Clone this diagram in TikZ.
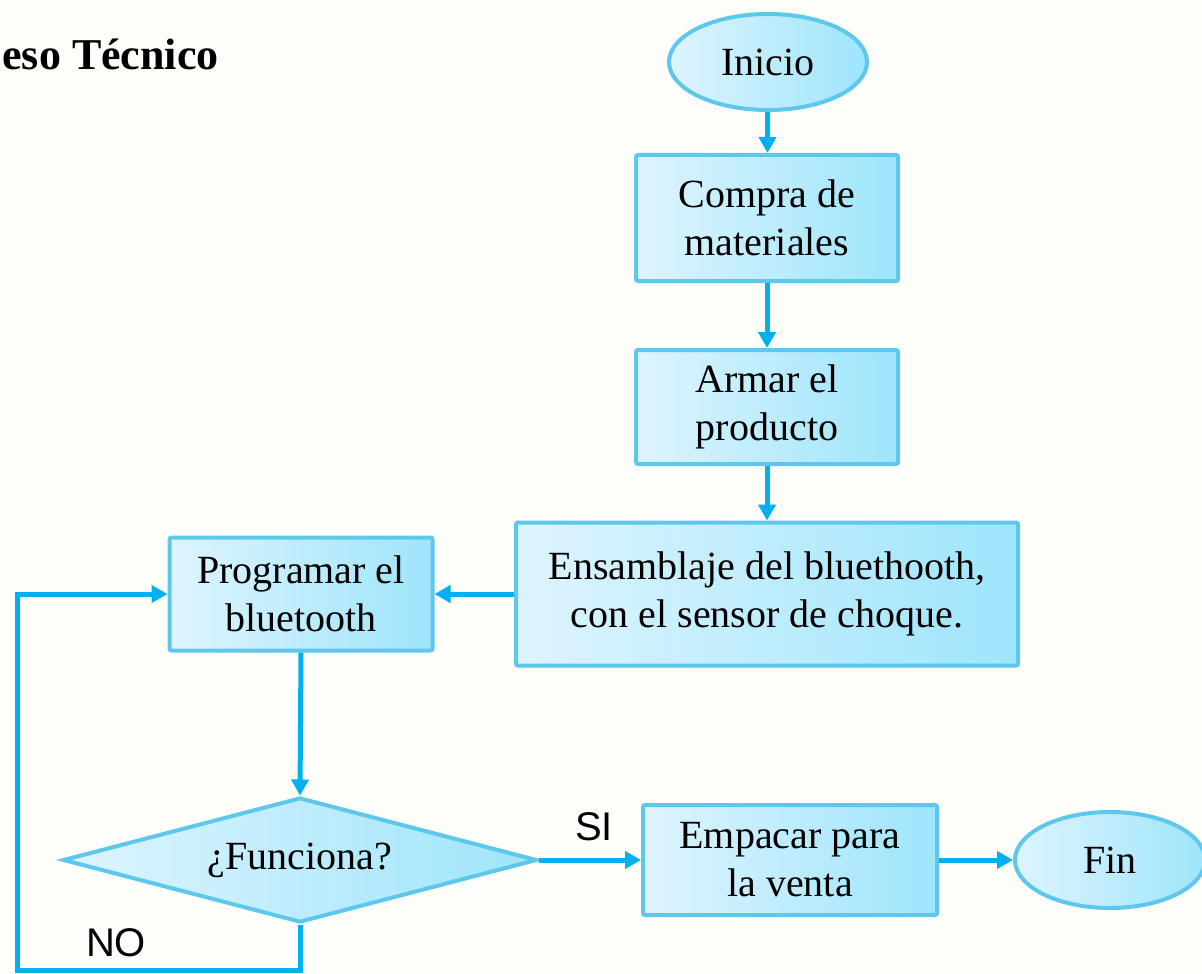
\documentclass[tikz,border=0pt]{standalone}
\usepackage{fontspec}
\setmainfont{Liberation Serif}
\newfontfamily\labelfont{Liberation Sans}
\usetikzlibrary{shapes,positioning,arrows.meta}

\definecolor{edgeblue}{RGB}{94,200,236}
\definecolor{arrowblue}{RGB}{0,176,240}
\definecolor{filllight}{RGB}{222,244,254}
\definecolor{filldark}{RGB}{158,229,251}
\definecolor{paper}{RGB}{253,253,250}

\begin{document}
\begin{tikzpicture}[
		x=0.5pt, y=-0.5pt,
		box/.style={
			draw=edgeblue,
			line width=2pt,
			left color=filllight,
			right color=filldark,
			inner sep=0pt,
			align=center,
			font=\fontsize{20}{24}\selectfont
		},
		terminal/.style={box, ellipse},
		process/.style={box, rectangle, rounded corners=1pt},
		decision/.style={box, diamond, aspect=3.8},
		flow/.style={
			draw=arrowblue,
			line width=2.5pt,
			-{Triangle[length=8pt,width=8.5pt]}
		},
		answer/.style={font=\labelfont\fontsize{20}{24}\selectfont}
		]
		\fill[paper] (0,0) rectangle (1202,973);
		\useasboundingbox (0,0) rectangle (1202,973);
		
		\node[anchor=base west, inner sep=0pt, font=\bfseries\fontsize{22}{26}\selectfont] (title) at (2,70) {eso Técnico};
		
		% sizes in pt (half of the pixel sizes)
		\node[terminal, minimum width=99pt, minimum height=48pt] (ini) at (768,62) {Inicio};
		\node[process, minimum width=131pt, minimum height=63pt] (buy) at (767,218) {Compra de\\materiales};
		\node[process, minimum width=131pt, minimum height=57pt] (build) at (767,407) {Armar el\\producto};
		\node[process, minimum width=251pt, minimum height=71.5pt] (join) at (767,594) {Ensamblaje del bluethooth,\\con el sensor de choque.};
		\node[process, minimum width=131.5pt, minimum height=56.5pt] (prog) at (301,594) {Programar el\\bluetooth};
		\node[decision, minimum width=237pt, minimum height=62.5pt] (test) at (300,860) {¿Funciona?};
		\node[process, minimum width=147pt, minimum height=55pt] (pack) at (790,860) {Empacar para\\la venta};
		\node[terminal, minimum width=95pt, minimum height=48pt] (fin) at (1110,860) {Fin};
		
		\draw[flow] (ini) -- (buy);
		\draw[flow] (buy) -- (build);
		\draw[flow] (build) -- (join);
		\draw[flow] (join) -- (prog);
		\draw[flow] (prog.south) -- (test.north);
		\draw[flow] (test) -- (pack);
		\draw[flow] (pack) -- (fin);
		
		% lazo de vuelta
		\coordinate (back) at (17,970);
		\draw[flow] (test.south) |- (back) |- (prog.west);
		
		\node[answer] (yes) at (594,827) {SI};
		\node[answer] (no) at (116,943) {NO};
		
\end{tikzpicture}
\end{document}
